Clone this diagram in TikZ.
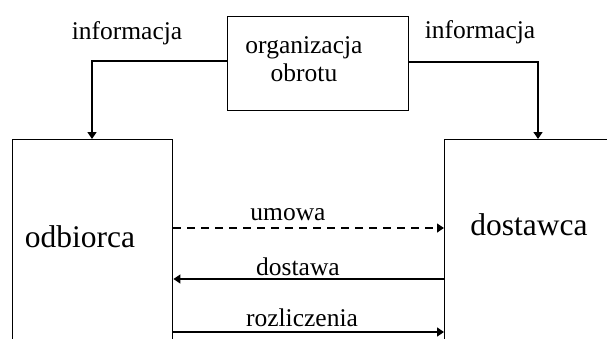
\documentclass[tikz,border=0pt]{standalone}
\usepackage{fontspec}
\setmainfont{Liberation Serif}
\usetikzlibrary{arrows.meta}
\begin{document}
\begin{tikzpicture}[x=1pt,y=-1pt,
  line width=1.4pt,
  box/.style={draw,rectangle,inner sep=0pt,anchor=north west},
  lbl/.style={font=\fontsize{25.5}{28}\selectfont,inner sep=0pt},
  big/.style={font=\fontsize{31.5}{34}\selectfont,inner sep=0pt},
  arr/.style={-{Triangle[length=7pt,width=9pt]}},
  flow/.style={arr,dash pattern=on 8pt off 6pt}]
\clip (0,0) rectangle (607,338);
\fill[white] (0,0) rectangle (607,338);

% boxes
\node[box,minimum width=181pt,minimum height=94pt] (org) at (227,16) {};
\node[box,minimum width=160pt,minimum height=230pt] (odb) at (12,139) {};
\node[box,minimum width=180pt,minimum height=230pt] (dost) at (444,139) {};

% box texts
\node[lbl,align=center] (orgtxt) at (304,59) {organizacja\\obrotu};
\node[big] (odbtxt) at (80,237) {odbiorca};
\node[big] (dosttxt) at (529,225) {dostawca};

% information flows
\draw[arr] (org.west |- 0,61) -| ([xshift=80pt]odb.north west);
\draw[arr] (org.east |- 0,62) -| ([xshift=94pt]dost.north west);
\node[lbl] (infL) at (127,33) {informacja};
\node[lbl] (infR) at (480,32) {informacja};

% exchange between buyer and supplier
\draw[flow,line width=1.2pt] (odb.east |- 0,228) -- (dost.west |- 0,228);
\draw[arr] (dost.west |- 0,279) -- (odb.east |- 0,279);
\draw[arr] (odb.east |- 0,332) -- (dost.west |- 0,332);
\node[lbl] (umowa) at (288,215) {umowa};
\node[lbl] (dostawa) at (298,267) {dostawa};
\node[lbl] (rozl) at (302,318) {rozliczenia};
\end{tikzpicture}
\end{document}
